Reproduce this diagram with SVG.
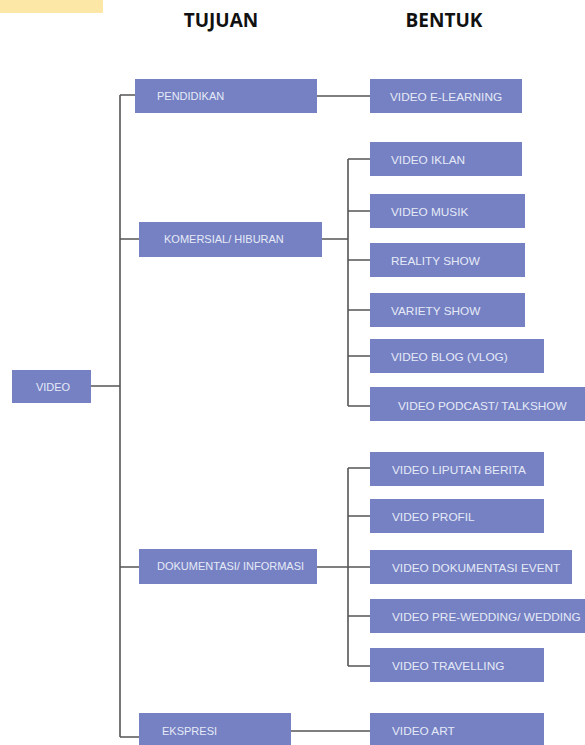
<svg xmlns="http://www.w3.org/2000/svg" width="585" height="745" viewBox="0 0 585 745">
<style>
.b{fill:#7581c3;}
.t{font-family:"Liberation Sans",Arial,sans-serif;fill:#e6eaf7;font-size:11px;}
.k{font-family:"Liberation Sans",Arial,sans-serif;fill:#e6eaf7;font-size:11.8px;}
.h{font-family:"Open Sans","Liberation Sans",sans-serif;font-weight:bold;font-size:19px;fill:#111;text-anchor:middle;}
.c{fill:none;stroke:#555;stroke-width:1.6;}
</style>
<rect x="0" y="0" width="103" height="13" fill="#fde7a6"/>
<text class="h" x="221" y="27">TUJUAN</text>
<text class="h" x="444" y="27">BENTUK</text>
<g id="connectors">
<path class="c" d="M91,386 H120 M120,95 V737 M120,95 H135 M120,239 H139 M120,567 H139 M120,737 H139"/>
<path class="c" d="M317,96 H370"/>
<path class="c" d="M322,239 H348 M348,159 V406 M348,159 H370 M348,211 H370 M348,260 H370 M348,310 H370 M348,356 H370 M348,406 H370"/>
<path class="c" d="M317,567 H348 M348,468 V666 M348,468 H370 M348,516 H370 M348,567 H370 M348,616 H370 M348,666 H370"/>
<path class="c" d="M291,731 H370"/>
</g>
<g id="video"><rect class="b" x="12" y="370" width="79" height="33"/><text class="t" x="53" y="391" text-anchor="middle">VIDEO</text></g>
<g id="pendidikan"><rect class="b" x="135" y="79" width="182" height="34"/><text class="t" x="157" y="100">PENDIDIKAN</text></g>
<g id="komersial"><rect class="b" x="139" y="222" width="183" height="35"/><text class="t" x="164" y="243">KOMERSIAL/ HIBURAN</text></g>
<g id="dokumentasi"><rect class="b" x="139" y="549" width="178" height="35"/><text class="t" x="157" y="570">DOKUMENTASI/ INFORMASI</text></g>
<g id="ekspresi"><rect class="b" x="139" y="713" width="152" height="34"/><text class="t" x="162" y="735">EKSPRESI</text></g>
<g id="elearning"><rect class="b" x="370" y="79" width="152" height="34"/><text class="k" x="390" y="101">VIDEO E-LEARNING</text></g>
<g id="iklan"><rect class="b" x="370" y="142" width="152" height="34"/><text class="k" x="391" y="164">VIDEO IKLAN</text></g>
<g id="musik"><rect class="b" x="370" y="194" width="155" height="34"/><text class="k" x="391" y="216">VIDEO MUSIK</text></g>
<g id="reality"><rect class="b" x="370" y="243" width="155" height="34"/><text class="k" x="391" y="265">REALITY SHOW</text></g>
<g id="variety"><rect class="b" x="370" y="293" width="155" height="34"/><text class="k" x="391" y="315">VARIETY SHOW</text></g>
<g id="vlog"><rect class="b" x="370" y="339" width="174" height="34"/><text class="k" x="391" y="361">VIDEO BLOG (VLOG)</text></g>
<g id="podcast"><rect class="b" x="370" y="387" width="215" height="34"/><text class="k" x="398" y="410">VIDEO PODCAST/ TALKSHOW</text></g>
<g id="liputan"><rect class="b" x="370" y="452" width="174" height="34"/><text class="k" x="392" y="474">VIDEO LIPUTAN BERITA</text></g>
<g id="profil"><rect class="b" x="370" y="499" width="174" height="34"/><text class="k" x="392" y="521">VIDEO PROFIL</text></g>
<g id="event"><rect class="b" x="370" y="550" width="202" height="34"/><text class="k" x="392" y="572">VIDEO DOKUMENTASI EVENT</text></g>
<g id="wedding"><rect class="b" x="370" y="599" width="215" height="34"/><text class="k" x="392" y="621">VIDEO PRE-WEDDING/ WEDDING</text></g>
<g id="travelling"><rect class="b" x="370" y="648" width="174" height="34"/><text class="k" x="392" y="670">VIDEO TRAVELLING</text></g>
<g id="art"><rect class="b" x="370" y="713" width="174" height="34"/><text class="k" x="392" y="735">VIDEO ART</text></g>
</svg>
